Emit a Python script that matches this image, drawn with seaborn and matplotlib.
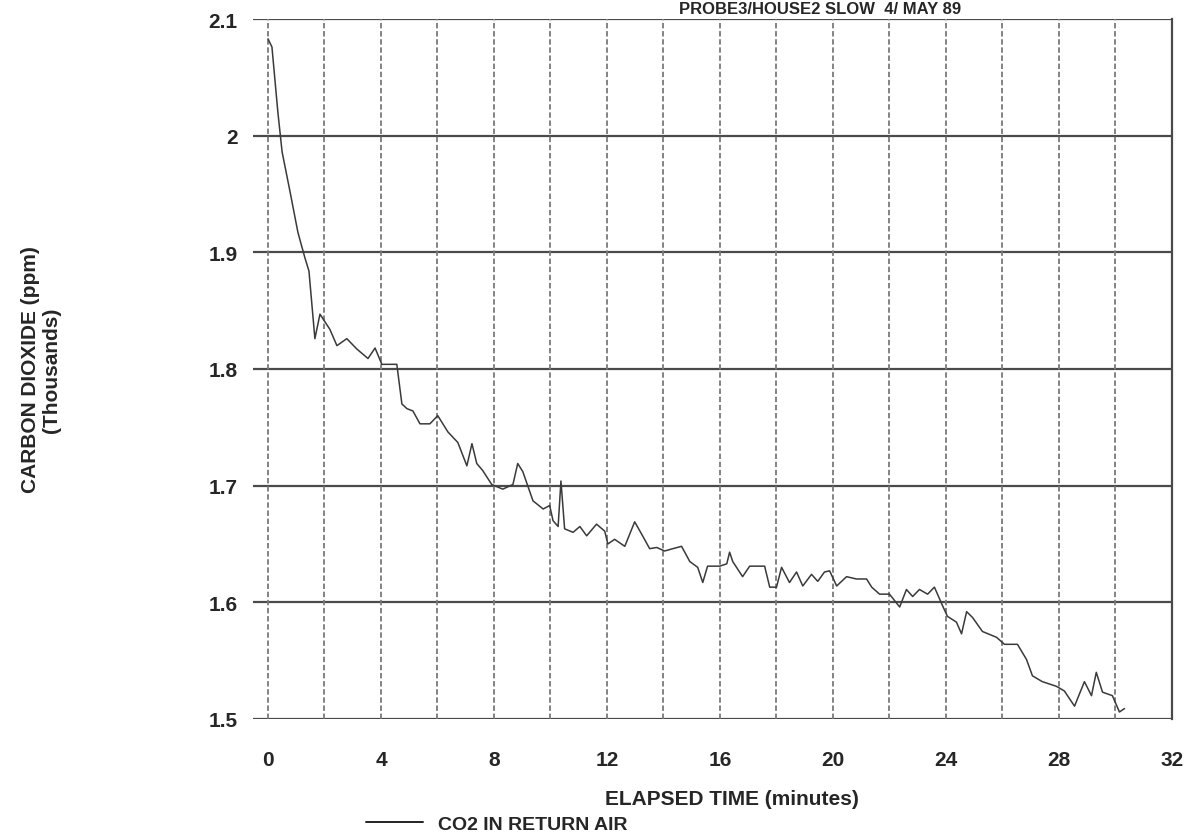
import matplotlib
matplotlib.use("Agg")
import matplotlib.pyplot as plt
import seaborn as sns
import pandas as pd
from matplotlib.lines import Line2D

# Elapsed time (minutes) and CO2 concentration in return air (thousands of ppm)
elapsed_min = [
    0, 0.14, 0.35, 0.5, 0.78, 1.06, 1.31, 1.45, 1.66, 1.84,
    2.19, 2.44, 2.79, 3.15, 3.54, 3.79, 4.03, 4.56, 4.74, 4.92,
    5.13, 5.38, 5.73, 6.01, 6.37, 6.72, 7.04, 7.22, 7.39, 7.6,
    7.92, 8.31, 8.67, 8.84, 9.02, 9.38, 9.74, 9.97, 10.09, 10.27,
    10.37, 10.5, 10.8, 11.04, 11.28, 11.63, 11.92, 12.03, 12.27, 12.63,
    12.98, 13.26, 13.51, 13.76, 14.04, 14.33, 14.64, 14.93, 15.21, 15.39,
    15.56, 15.99, 16.24, 16.34, 16.45, 16.8, 17.05, 17.58, 17.76, 18.0,
    18.18, 18.46, 18.71, 18.93, 19.24, 19.46, 19.70, 19.88, 20.13, 20.48,
    20.83, 21.19, 21.37, 21.65, 22.0, 22.36, 22.6, 22.82, 23.06, 23.35,
    23.59, 23.88, 24.05, 24.37, 24.55, 24.73, 24.94, 25.29, 25.79, 26.07,
    26.53, 26.85, 27.06, 27.41, 27.91, 28.19, 28.55, 28.9, 29.15, 29.32,
    29.54, 29.89, 30.14, 30.32,
]
co2_thousands = [
    2.083, 2.076, 2.02, 1.986, 1.952, 1.917, 1.895, 1.884, 1.826, 1.847,
    1.834, 1.820, 1.826, 1.817, 1.809, 1.818, 1.804, 1.804, 1.770, 1.766,
    1.764, 1.753, 1.753, 1.760, 1.746, 1.737, 1.717, 1.736, 1.719, 1.713,
    1.701, 1.697, 1.701, 1.719, 1.712, 1.687, 1.680, 1.683, 1.670, 1.665,
    1.704, 1.663, 1.660, 1.665, 1.657, 1.667, 1.661, 1.650, 1.654, 1.648,
    1.669, 1.657, 1.646, 1.647, 1.644, 1.646, 1.648, 1.635, 1.630, 1.617,
    1.631, 1.631, 1.633, 1.643, 1.635, 1.622, 1.631, 1.631, 1.613, 1.613,
    1.630, 1.617, 1.626, 1.614, 1.624, 1.618, 1.626, 1.627, 1.614, 1.622,
    1.620, 1.620, 1.613, 1.607, 1.607, 1.596, 1.611, 1.605, 1.611, 1.607,
    1.613, 1.597, 1.588, 1.583, 1.573, 1.592, 1.587, 1.575, 1.570, 1.564,
    1.564, 1.551, 1.537, 1.532, 1.528, 1.524, 1.511, 1.532, 1.520, 1.540,
    1.523, 1.520, 1.506, 1.509,
]

x_ticks = [0, 4, 8, 12, 16, 20, 24, 28, 32]
x_grid = list(range(0, 32, 2))
y_ticks = [1.5, 1.6, 1.7, 1.8, 1.9, 2.0, 2.1]
y_tick_labels = ["1.5", "1.6", "1.7", "1.8", "1.9", "2", "2.1"]

series_name = "CO2 IN RETURN AIR"
title_text = "PROBE3/HOUSE2 SLOW  4/ MAY 89"

sns.set_style("white")
plt.rcParams["font.family"] = ["Liberation Sans", "DejaVu Sans"]
plt.rcParams["font.weight"] = "bold"

df = pd.DataFrame({"time": elapsed_min, "co2": co2_thousands})

fig = plt.figure(figsize=(11.89, 8.37), dpi=100)
ax = fig.add_axes([0.2128, 0.1398, 0.7729, 0.8363])

# grid: solid horizontals, broken verticals
for yv in y_ticks:
    ax.axhline(yv, color="#4a4a4a", lw=1.6, zorder=1)
for xv in x_grid:
    ax.axvline(xv, color="#7a7a7a", lw=1.3, ls=(0, (3, 1.5)), zorder=1)

sns.lineplot(data=df, x="time", y="co2", ax=ax, color="#3a3a3a",
             lw=1.1, zorder=3, legend=False)

ax.set_xlim(-0.53, 32)
ax.set_ylim(1.5, 2.1)

for s in ["left", "top", "bottom"]:
    ax.spines[s].set_visible(False)
ax.spines["right"].set_color("#4a4a4a")
ax.spines["right"].set_linewidth(1.6)

ax.set_xticks(x_ticks)
ax.set_xticklabels([str(v) for v in x_ticks])
ax.set_xticks(x_grid, minor=True)
ax.set_yticks(y_ticks)
ax.set_yticklabels(y_tick_labels)
ax.tick_params(axis="x", which="both", direction="out", length=10,
               color="#7a7a7a", width=1.2, labelsize=15, pad=12)
ax.tick_params(axis="y", length=0, labelsize=15, pad=11)

ax.set_xlabel("")
ax.set_ylabel("")

fig.text(0.616, 1 - 800 / 837, "ELAPSED TIME (minutes)", ha="center", va="center",
         fontsize=15, fontweight="bold")
fig.text(0.026, 0.558, "CARBON DIOXIDE (ppm)", rotation=90, ha="center", va="center",
         fontsize=15, fontweight="bold")
fig.text(0.043, 0.558, "(Thousands)", rotation=90, ha="center", va="center",
         fontsize=15, fontweight="bold")
fig.text(0.69, 1 - 2 / 837, title_text, ha="center", va="top",
         fontsize=12, fontweight="bold")

handle = Line2D([], [], color="#222222", lw=1.4)
fig.legend([handle], [series_name], loc="center left",
           bbox_to_anchor=(0.308, 1 - 825 / 837), frameon=False,
           handlelength=2.9, handletextpad=0.8, fontsize=14,
           borderaxespad=0, borderpad=0)

fig.savefig("out.png", dpi=100, facecolor="white")
